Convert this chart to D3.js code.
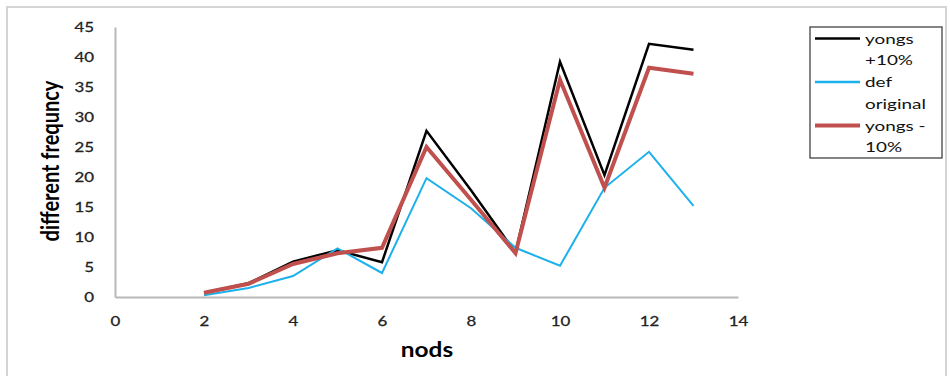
<!DOCTYPE html>
<html>
<head>
<meta charset="utf-8">
<script src="https://cdn.jsdelivr.net/npm/d3@7"></script>
<style>
  body { margin: 0; background: #fff; }
  text { font-family: Lato, "Open Sans", sans-serif; }
</style>
</head>
<body>
<svg id="chart"></svg>
<script>
// data
const nods = [2, 3, 4, 5, 6, 7, 8, 9, 10, 11, 12, 13];
const yongsPlus = [0.7, 2.3, 5.9, 7.8, 5.8, 27.7, 17.8, 7.4, 39.2, 20.3, 42.2, 41.2];
const defOriginal = [0.3, 1.5, 3.5, 8.1, 4.0, 19.8, 14.8, 8.2, 5.2, 18.2, 24.2, 15.2];
const yongsMinus = [0.7, 2.2, 5.5, 7.3, 8.2, 25.0, 16.2, 7.3, 36.2, 18.2, 38.2, 37.2];
const xTicks = [0, 2, 4, 6, 8, 10, 12, 14];
const yTicks = [0, 5, 10, 15, 20, 25, 30, 35, 40, 45];

const series = [
  {label: ["yongs", "+10%"], values: yongsPlus, color: "#000000", width: 2.5},
  {label: ["def", "original"], values: defOriginal, color: "#1cb0ec", width: 2},
  {label: ["yongs -", "10%"], values: yongsMinus, color: "#c0504d", width: 4}
];

const width = 950, height = 376;
const margin = {top: 27, right: 212, bottom: 79, left: 115};
const stretch = 1.3; // the picture's text is drawn wide

const svg = d3.select("#chart")
  .attr("width", width)
  .attr("height", height);

// outer frame
svg.append("rect")
  .attr("x", 7).attr("y", 7)
  .attr("width", 939).attr("height", 380)
  .attr("fill", "none")
  .attr("stroke", "#d4d4d4")
  .attr("stroke-width", 2);

const x = d3.scaleLinear().domain([0, 14]).range([margin.left, width - margin.right]);
const y = d3.scaleLinear().domain([0, 45]).range([height - margin.bottom, margin.top]);

// axes
const xAxis = d3.axisBottom(x).tickValues(xTicks).tickSize(0).tickPadding(20);
const yAxis = d3.axisLeft(y).tickValues(yTicks).tickSize(0);

const xg = svg.append("g")
  .attr("transform", `translate(0,${y(0)})`)
  .call(xAxis);
const yg = svg.append("g")
  .attr("transform", `translate(${x(0)},0)`)
  .call(yAxis);

[xg, yg].forEach(g => {
  g.select(".domain").attr("stroke", "#b8b8b8").attr("stroke-width", 2);
  g.selectAll("text")
    .attr("font-family", "Lato, sans-serif")
    .attr("font-size", 13)
    .attr("fill", "#222")
    .attr("stroke", "#222")
    .attr("stroke-width", 0.25)
    .attr("transform", `scale(${stretch},1)`);
});
yg.selectAll("text").attr("x", -21 / stretch);

// titles
svg.append("text")
  .attr("transform", `translate(427,357) scale(1.22,1)`)
  .attr("text-anchor", "middle")
  .attr("font-size", 20)
  .attr("font-weight", "bold")
  .text("nods");

svg.append("text")
  .attr("transform", `translate(59,161) scale(1.25,1) rotate(-90)`)
  .attr("text-anchor", "middle")
  .attr("font-size", 20)
  .attr("font-weight", "bold")
  .text("different frequncy");

// lines
const line = d3.line()
  .x((d, i) => x(nods[i]))
  .y(d => y(d));

svg.selectAll(".series")
  .data(series)
  .join("path")
  .attr("class", "series")
  .attr("d", d => line(d.values))
  .attr("fill", "none")
  .attr("stroke", d => d.color)
  .attr("stroke-width", d => d.width)
  .attr("stroke-linejoin", "miter");

// legend
const legend = svg.append("g").attr("transform", "translate(810,27)");
legend.append("rect")
  .attr("width", 132).attr("height", 131)
  .attr("fill", "#fff")
  .attr("stroke", "#333")
  .attr("stroke-width", 1.2);

const item = legend.selectAll(".item")
  .data(series)
  .join("g")
  .attr("class", "item")
  .attr("transform", (d, i) => `translate(0,${11.5 + i * 43.5})`);

item.append("line")
  .attr("x1", 5).attr("x2", 50)
  .attr("stroke", d => d.color)
  .attr("stroke-width", d => d.width === 2 ? 2.5 : d.width);

item.selectAll("text")
  .data(d => d.label)
  .join("text")
  .attr("transform", (d, i) => `translate(55,${5 + i * 21.5}) scale(1.35,1)`)
  .attr("font-size", 14)
  .attr("fill", "#111")
  .text(d => d);
</script>
</body>
</html>
